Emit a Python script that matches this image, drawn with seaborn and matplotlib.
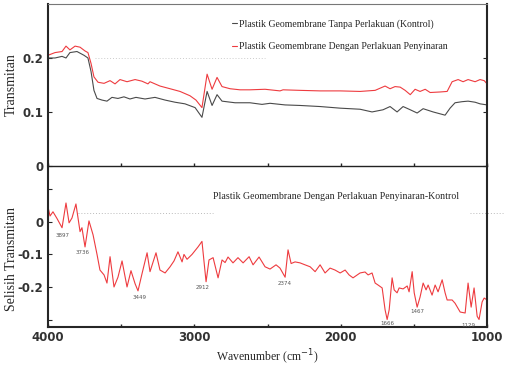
import matplotlib
matplotlib.use('Agg')
import matplotlib.pyplot as plt
import seaborn as sns
import pandas as pd

# ========= data =========
wn_kontrol = [4000, 3952, 3904, 3877, 3850, 3802, 3754, 3727, 3706, 3686, 3665, 3631, 3597,
              3563, 3522, 3481, 3440, 3399, 3337, 3269, 3200, 3132, 3064, 2995, 2948, 2913,
              2879, 2845, 2811, 2722, 2620, 2538, 2483, 2380, 2278, 2141, 2004, 1868, 1786,
              1711, 1663, 1615, 1574, 1525, 1478, 1437, 1369, 1287, 1253, 1219, 1171, 1130,
              1082, 1048, 1000]
tr_kontrol = [0.200, 0.200, 0.203, 0.200, 0.210, 0.212, 0.205, 0.200, 0.175, 0.140, 0.125,
              0.122, 0.120, 0.127, 0.125, 0.128, 0.124, 0.127, 0.124, 0.127, 0.122, 0.118,
              0.115, 0.108, 0.090, 0.138, 0.112, 0.132, 0.120, 0.117, 0.117, 0.114, 0.116,
              0.113, 0.112, 0.110, 0.107, 0.105, 0.100, 0.104, 0.110, 0.100, 0.110, 0.104,
              0.098, 0.106, 0.100, 0.094, 0.107, 0.117, 0.119, 0.120, 0.118, 0.115, 0.113]

wn_sinar = [4000, 3952, 3904, 3877, 3850, 3815, 3781, 3747, 3727, 3706, 3686, 3658, 3617,
            3576, 3542, 3508, 3460, 3405, 3358, 3317, 3303, 3235, 3166, 3098, 3030, 2989,
            2948, 2913, 2879, 2845, 2811, 2756, 2688, 2620, 2517, 2415, 2394, 2278, 2141,
            2004, 1868, 1765, 1697, 1663, 1629, 1594, 1560, 1525, 1492, 1458, 1423, 1389,
            1321, 1273, 1239, 1198, 1164, 1130, 1082, 1048, 1020, 1000]
tr_sinar = [0.205, 0.210, 0.212, 0.222, 0.215, 0.222, 0.220, 0.213, 0.210, 0.190, 0.165,
            0.155, 0.153, 0.158, 0.152, 0.160, 0.156, 0.160, 0.157, 0.152, 0.156, 0.148,
            0.143, 0.138, 0.130, 0.122, 0.108, 0.170, 0.142, 0.164, 0.147, 0.143, 0.141,
            0.141, 0.142, 0.139, 0.141, 0.140, 0.139, 0.139, 0.138, 0.140, 0.148, 0.143,
            0.147, 0.146, 0.140, 0.132, 0.142, 0.138, 0.142, 0.136, 0.137, 0.138, 0.156,
            0.160, 0.156, 0.160, 0.156, 0.160, 0.158, 0.152]

wn_selisih = [4000, 3986, 3966, 3938, 3904, 3877, 3856, 3836, 3809, 3781, 3768, 3747, 3720,
              3692, 3665, 3645, 3617, 3597, 3576, 3549, 3522, 3494, 3460, 3433, 3405, 3385,
              3358, 3323, 3303, 3262, 3235, 3200, 3166, 3139, 3112, 3084, 3071, 3050, 3016,
              2975, 2948, 2920, 2900, 2872, 2838, 2811, 2790, 2770, 2736, 2702, 2667, 2626,
              2599, 2558, 2517, 2483, 2442, 2415, 2380, 2360, 2339, 2312, 2278, 2244, 2209,
              2175, 2141, 2107, 2073, 2039, 2004, 1970, 1943, 1916, 1868, 1834, 1813, 1786,
              1765, 1745, 1717, 1697, 1683, 1669, 1649, 1635, 1615, 1601, 1574, 1546, 1533,
              1512, 1498, 1478, 1458, 1437, 1417, 1403, 1376, 1355, 1335, 1307, 1287, 1273,
              1239, 1219, 1184, 1150, 1130, 1109, 1089, 1068, 1055, 1034, 1020, 1000]
tr_selisih = [0.046, 0.018, 0.031, 0.010, -0.018, 0.058, -0.003, 0.012, 0.055, -0.030,
              -0.018, -0.077, 0.003, -0.040, -0.100, -0.148, -0.163, -0.188, -0.107, -0.200,
              -0.170, -0.120, -0.200, -0.150, -0.190, -0.212, -0.160, -0.095, -0.153, -0.095,
              -0.148, -0.157, -0.138, -0.120, -0.092, -0.123, -0.100, -0.115, -0.100, -0.077,
              -0.060, -0.184, -0.117, -0.110, -0.172, -0.117, -0.125, -0.108, -0.126, -0.110,
              -0.126, -0.107, -0.132, -0.108, -0.138, -0.145, -0.132, -0.142, -0.170, -0.086,
              -0.128, -0.123, -0.126, -0.132, -0.138, -0.153, -0.132, -0.157, -0.142, -0.148,
              -0.157, -0.148, -0.163, -0.172, -0.157, -0.154, -0.163, -0.157, -0.188, -0.194,
              -0.203, -0.270, -0.300, -0.270, -0.172, -0.209, -0.218, -0.203, -0.206, -0.197,
              -0.215, -0.153, -0.218, -0.262, -0.231, -0.188, -0.209, -0.194, -0.225, -0.194,
              -0.215, -0.178, -0.218, -0.240, -0.240, -0.250, -0.277, -0.280, -0.188, -0.262,
              -0.203, -0.290, -0.300, -0.246, -0.234, -0.240]

peak_labels = ['3897', '3736', '3449', '2912', '2374', '1666', '1467', '1129']
peak_x = [3897, 3761, 3371, 2941, 2380, 1683, 1478, 1130]
peak_y = [-0.043, -0.095, -0.231, -0.203, -0.188, -0.311, -0.274, -0.317]

label_kontrol = 'Plastik Geomembrane Tanpa Perlakuan (Kontrol)'
label_sinar = 'Plastik Geomembrane Dengan Perlakuan Penyinaran'
label_selisih = 'Plastik Geomembrane Dengan Perlakuan Penyinaran-Kontrol'

df_top = pd.concat([
    pd.DataFrame({'wn': wn_kontrol, 'T': tr_kontrol, 'seri': label_kontrol}),
    pd.DataFrame({'wn': wn_sinar, 'T': tr_sinar, 'seri': label_sinar}),
])
df_bot = pd.DataFrame({'wn': wn_selisih, 'T': tr_selisih})

# ========= style =========
sns.set_style('ticks')
plt.rcParams['font.family'] = ['Liberation Serif', 'DejaVu Serif']
plt.rcParams['xtick.direction'] = 'in'
plt.rcParams['ytick.direction'] = 'in'

tick_font = dict(family='DejaVu Sans', weight='bold', size=8.5, color='#333333')
red = '#ee3b3f'
dark = '#4a4a4a'

fig = plt.figure(figsize=(5.16, 3.67), dpi=100)
ax2 = fig.add_axes([0.093, 0.109, 0.851, 0.439])
ax1 = fig.add_axes([0.093, 0.548, 0.851, 0.441])
ax1.patch.set_alpha(0)

# ---- top panel ----
sns.lineplot(data=df_top, x='wn', y='T', hue='seri', palette=[dark, red],
             linewidth=0.8, sort=False, estimator=None, ax=ax1)
ax1.plot([3680, 2520], [0.2, 0.2], ls=(0, (1, 2)), color='#cccccc', lw=0.7)
ax1.set_xlim(4000, 1000)
ax1.set_ylim(0, 0.3)
ax1.set_yticks([0, 0.1, 0.2])
ax1.set_yticklabels(['0', '0.1', '0.2'], **tick_font)
ax1.set_xticks([4000, 3000, 2000, 1000])
ax1.set_xticks([3500, 2500, 1500], minor=True)
ax1.tick_params(axis='x', which='both', labelbottom=False, length=2, width=1)
ax1.tick_params(axis='y', right=True, length=3, width=0.8)
ax1.set_xlabel('')
ax1.set_ylabel('Transmitan', fontsize=10)
ax1.spines['top'].set_color('#777777')
ax1.spines['top'].set_linewidth(0.8)
ax1.spines['bottom'].set_color('#222222')
ax1.spines['bottom'].set_linewidth(1.0)
for s in ['left', 'right']:
    ax1.spines[s].set_linewidth(1.5)
leg = ax1.legend(loc='upper left', bbox_to_anchor=(0.398, 0.96), frameon=False,
                 fontsize=7.0, handlelength=0.6, handletextpad=0.2, labelspacing=1.4)

# ---- bottom panel ----
sns.lineplot(data=df_bot, x='wn', y='T', color=red, linewidth=0.8,
             sort=False, estimator=None, ax=ax2)
ax2.plot([3795, 2872], [0.028, 0.028], ls=(0, (1, 2)), color='#bbbbbb', lw=0.7)
ax2.plot([1116, 888], [0.028, 0.028], ls=(0, (1, 2)), color='#bbbbbb', lw=0.7,
         clip_on=False)
for lab, px, py in zip(peak_labels, peak_x, peak_y):
    ax2.text(px, py, lab, fontsize=4, color='#555555', ha='center', va='center',
             family='DejaVu Sans')
ax2.text(0.376, 0.81, label_selisih, transform=ax2.transAxes, fontsize=7.1,
         ha='left', va='center')
ax2.set_xlim(4000, 1000)
ax2.set_ylim(-0.323, 0.172)
ax2.set_yticks([-0.3, -0.2, -0.1, 0, 0.1])
ax2.set_yticklabels(['', '-0.2', '-0.1', '0', ''], **tick_font)
ax2.set_xticks([4000, 3000, 2000, 1000])
ax2.set_xticklabels(['4000', '3000', '2000', '1000'], **tick_font)
ax2.set_xticks([3500, 2500, 1500], minor=True)
ax2.tick_params(axis='x', which='both', length=2, width=1, pad=3)
ax2.tick_params(axis='y', length=3, width=0.8)
ax2.spines['top'].set_visible(False)
for s in ['left', 'right', 'bottom']:
    ax2.spines[s].set_linewidth(1.5)
ax2.set_xlabel('Wavenumber (cm$^{-1}$)', fontsize=8.5, labelpad=3)
ax2.set_ylabel('Selisih Transmitan', fontsize=10)

# align the two y labels
ax1.yaxis.set_label_coords(-0.068, 0.5)
ax2.yaxis.set_label_coords(-0.068, 0.42)

fig.savefig('out.png', dpi=100)
plt.close()
